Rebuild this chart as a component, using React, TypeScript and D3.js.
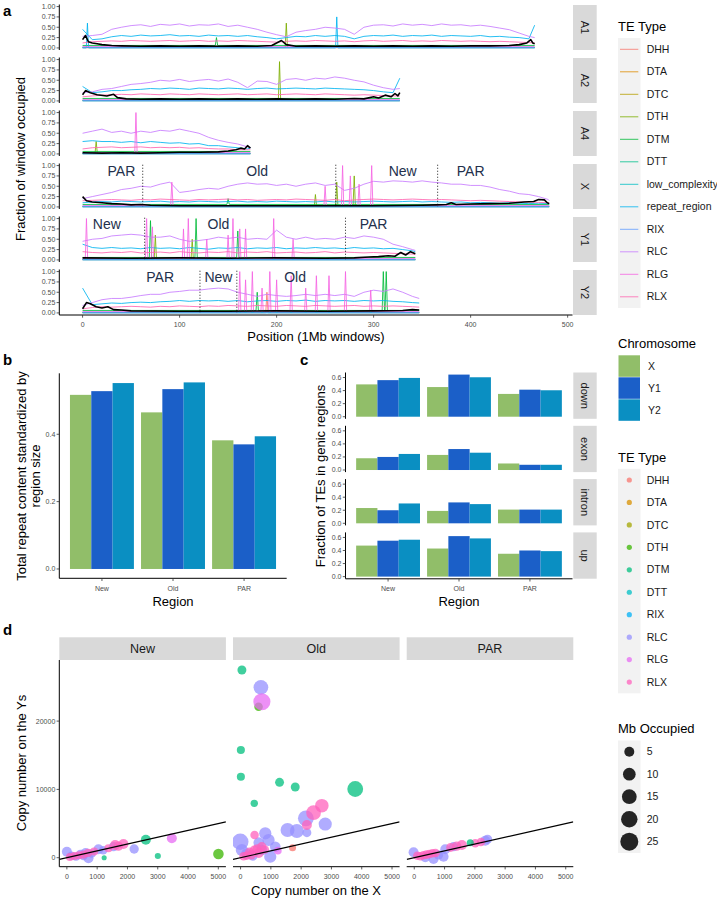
import React from 'react';
import * as d3 from 'd3';

type Pt = [number, number];

const FONT = '"Liberation Sans", Arial, Helvetica, sans-serif';
const TICK_GRAY = '#4D4D4D';
const STRIP_FILL = '#D9D9D9';
const KEY_FILL = '#F2F2F2';

// ---------- legend levels ----------
const lineTypes = ['DHH', 'DTA', 'DTC', 'DTH', 'DTM', 'DTT', 'low_complexity', 'repeat_region', 'RIX', 'RLC', 'RLG', 'RLX'];
const lineColors = ['#F8766D', '#DE8C00', '#B79F00', '#7CAE00', '#00BA38', '#00C08B', '#00BFC4', '#00B4F0', '#619CFF', '#C77CFF', '#F564E3', '#FF64B0'];
const pointTypes = ['DHH', 'DTA', 'DTC', 'DTH', 'DTM', 'DTT', 'RIX', 'RLC', 'RLG', 'RLX'];
const pointColors = ['#F8766D', '#D89000', '#A3A500', '#39B600', '#00BF7D', '#00BFC4', '#00B0F6', '#9590FF', '#E76BF3', '#FF62BC'];
const chromNames = ['X', 'Y1', 'Y2'];
const chromColors = ['#91BE69', '#1B5FC8', '#0A8FC2'];
const mbLevels = [5, 10, 15, 20, 25];

// ---------- panel a ----------
const chromosomes = ['A1', 'A2', 'A4', 'X', 'Y1', 'Y2'];
const chromEnds = [466, 327, 173, 481, 343, 347];
const posTicks = [0, 100, 200, 300, 400, 500];
const fracTicks = [0, 0.25, 0.5, 0.75, 1];

// values every 10 windows (last value at chromosome end)
const a1Rlc = [0.28, 0.3, 0.33, 0.45, 0.5, 0.54, 0.56, 0.52, 0.57, 0.55, 0.58, 0.53, 0.56, 0.55, 0.58, 0.52, 0.55, 0.5, 0.45, 0.38, 0.32, 0.27, 0.38, 0.42, 0.45, 0.5, 0.48, 0.45, 0.33, 0.5, 0.55, 0.56, 0.53, 0.58, 0.55, 0.57, 0.54, 0.58, 0.55, 0.56, 0.53, 0.55, 0.52, 0.48, 0.44, 0.36, 0.28, 0.25];
const a1Rep = [0.45, 0.2, 0.22, 0.27, 0.3, 0.28, 0.31, 0.29, 0.3, 0.32, 0.29, 0.3, 0.28, 0.31, 0.29, 0.3, 0.28, 0.3, 0.27, 0.25, 0.22, 0.25, 0.28, 0.27, 0.3, 0.28, 0.3, 0.28, 0.22, 0.28, 0.3, 0.29, 0.31, 0.28, 0.3, 0.29, 0.31, 0.28, 0.3, 0.29, 0.28, 0.3, 0.27, 0.28, 0.26, 0.25, 0.22, 0.55];
const a1Rlx = [0.12, 0.15, 0.16, 0.17, 0.16, 0.18, 0.17, 0.16, 0.17, 0.18, 0.16, 0.17, 0.18, 0.16, 0.17, 0.16, 0.18, 0.17, 0.16, 0.15, 0.14, 0.16, 0.17, 0.16, 0.18, 0.17, 0.16, 0.17, 0.15, 0.17, 0.18, 0.16, 0.17, 0.18, 0.16, 0.17, 0.16, 0.18, 0.17, 0.16, 0.17, 0.16, 0.15, 0.16, 0.15, 0.14, 0.13, 0.12];
const a2Rlc = [0.2, 0.22, 0.28, 0.3, 0.35, 0.4, 0.42, 0.45, 0.5, 0.48, 0.52, 0.47, 0.5, 0.52, 0.48, 0.53, 0.45, 0.32, 0.48, 0.47, 0.4, 0.52, 0.54, 0.5, 0.55, 0.53, 0.58, 0.55, 0.5, 0.46, 0.38, 0.32, 0.28, 0.3];
const a2Rep = [0.35, 0.2, 0.22, 0.25, 0.25, 0.27, 0.28, 0.3, 0.29, 0.31, 0.3, 0.28, 0.31, 0.3, 0.29, 0.31, 0.3, 0.28, 0.3, 0.31, 0.29, 0.3, 0.31, 0.3, 0.29, 0.31, 0.3, 0.29, 0.28, 0.27, 0.25, 0.22, 0.2, 0.55];
const a2Rlx = [0.1, 0.12, 0.14, 0.15, 0.16, 0.15, 0.17, 0.16, 0.15, 0.17, 0.16, 0.15, 0.17, 0.16, 0.15, 0.16, 0.17, 0.15, 0.16, 0.17, 0.15, 0.16, 0.17, 0.16, 0.15, 0.17, 0.16, 0.15, 0.14, 0.15, 0.14, 0.13, 0.12, 0.12];
const a4Rlc = [0.5, 0.55, 0.6, 0.52, 0.55, 0.5, 0.55, 0.52, 0.57, 0.55, 0.6, 0.55, 0.5, 0.4, 0.33, 0.28, 0.24, 0.17, 0.15];
const a4Rep = [0.3, 0.32, 0.3, 0.3, 0.28, 0.3, 0.27, 0.3, 0.28, 0.26, 0.27, 0.24, 0.25, 0.2, 0.2, 0.17, 0.15, 0.12, 0.15];
const a4Rlx = [0.12, 0.15, 0.16, 0.17, 0.15, 0.16, 0.17, 0.15, 0.16, 0.15, 0.16, 0.14, 0.15, 0.13, 0.12, 0.12, 0.1, 0.1, 0.1];
const xRlc = [0.2, 0.25, 0.3, 0.35, 0.42, 0.45, 0.5, 0.48, 0.55, 0.6, 0.35, 0.38, 0.42, 0.45, 0.43, 0.5, 0.55, 0.58, 0.55, 0.56, 0.52, 0.55, 0.5, 0.55, 0.58, 0.52, 0.55, 0.4, 0.45, 0.55, 0.62, 0.6, 0.63, 0.62, 0.6, 0.63, 0.6, 0.58, 0.55, 0.55, 0.52, 0.52, 0.48, 0.42, 0.38, 0.32, 0.3, 0.25, 0.18, 0.15];
const xRep = [0.1, 0.12, 0.13, 0.12, 0.14, 0.13, 0.12, 0.13, 0.14, 0.12, 0.13, 0.12, 0.14, 0.13, 0.12, 0.13, 0.14, 0.12, 0.13, 0.12, 0.14, 0.13, 0.12, 0.13, 0.12, 0.14, 0.12, 0.13, 0.12, 0.13, 0.14, 0.13, 0.12, 0.13, 0.14, 0.12, 0.13, 0.12, 0.11, 0.12, 0.1, 0.11, 0.1, 0.09, 0.1, 0.09, 0.08, 0.09, 0.08, 0.07];
const xRlx = [0.15, 0.16, 0.17, 0.18, 0.17, 0.16, 0.18, 0.17, 0.19, 0.18, 0.17, 0.16, 0.18, 0.17, 0.18, 0.19, 0.17, 0.18, 0.16, 0.17, 0.18, 0.17, 0.19, 0.18, 0.17, 0.16, 0.18, 0.15, 0.17, 0.18, 0.19, 0.18, 0.17, 0.18, 0.19, 0.18, 0.17, 0.18, 0.17, 0.16, 0.15, 0.16, 0.15, 0.14, 0.13, 0.12, 0.12, 0.11, 0.1, 0.1];
const y1Rlc = [0.45, 0.5, 0.52, 0.58, 0.6, 0.62, 0.6, 0.55, 0.55, 0.58, 0.5, 0.45, 0.47, 0.5, 0.55, 0.52, 0.55, 0.5, 0.52, 0.5, 0.72, 0.55, 0.5, 0.55, 0.5, 0.52, 0.5, 0.55, 0.52, 0.58, 0.55, 0.5, 0.38, 0.32, 0.25, 0.23];
const y1Rep = [0.38, 0.3, 0.28, 0.3, 0.28, 0.29, 0.27, 0.3, 0.28, 0.29, 0.27, 0.3, 0.28, 0.26, 0.29, 0.28, 0.3, 0.27, 0.29, 0.28, 0.3, 0.27, 0.29, 0.28, 0.3, 0.28, 0.29, 0.27, 0.3, 0.28, 0.29, 0.27, 0.28, 0.25, 0.22, 0.2];
const y1Rlx = [0.2, 0.18, 0.17, 0.19, 0.18, 0.2, 0.17, 0.18, 0.19, 0.17, 0.2, 0.18, 0.17, 0.19, 0.18, 0.2, 0.17, 0.19, 0.18, 0.2, 0.17, 0.18, 0.19, 0.17, 0.18, 0.2, 0.17, 0.19, 0.18, 0.17, 0.18, 0.17, 0.16, 0.15, 0.14, 0.13];
const y2Rlc = [0.18, 0.25, 0.32, 0.35, 0.35, 0.38, 0.42, 0.45, 0.45, 0.5, 0.52, 0.55, 0.55, 0.58, 0.6, 0.58, 0.5, 0.45, 0.4, 0.45, 0.42, 0.4, 0.42, 0.45, 0.42, 0.45, 0.42, 0.45, 0.4, 0.5, 0.55, 0.52, 0.58, 0.5, 0.4, 0.35];
const y2Rep = [0.6, 0.2, 0.22, 0.24, 0.23, 0.25, 0.26, 0.25, 0.27, 0.28, 0.3, 0.28, 0.3, 0.29, 0.3, 0.28, 0.3, 0.27, 0.29, 0.3, 0.28, 0.3, 0.29, 0.31, 0.28, 0.3, 0.29, 0.3, 0.28, 0.3, 0.29, 0.3, 0.28, 0.27, 0.25, 0.24];
const y2Rlx = [0.1, 0.13, 0.15, 0.14, 0.15, 0.16, 0.15, 0.14, 0.16, 0.15, 0.17, 0.16, 0.15, 0.17, 0.16, 0.18, 0.17, 0.16, 0.18, 0.17, 0.16, 0.18, 0.17, 0.16, 0.18, 0.17, 0.16, 0.17, 0.18, 0.16, 0.17, 0.16, 0.17, 0.16, 0.15, 0.14];

// thick black line, [position, fraction]
const a1Black: Pt[] = [[0, 0.2], [3, 0.3], [6, 0.15], [10, 0.12], [15, 0.1], [20, 0.08], [30, 0.06], [40, 0.05], [60, 0.04], [80, 0.05], [100, 0.04], [120, 0.05], [140, 0.04], [160, 0.05], [180, 0.04], [195, 0.06], [200, 0.12], [205, 0.18], [210, 0.08], [220, 0.04], [240, 0.05], [260, 0.04], [280, 0.05], [300, 0.04], [320, 0.05], [340, 0.04], [360, 0.05], [380, 0.04], [400, 0.05], [420, 0.05], [440, 0.06], [450, 0.08], [458, 0.12], [462, 0.2], [464, 0.12], [466, 0.1]];
const a2Black: Pt[] = [[0, 0.15], [3, 0.25], [8, 0.2], [15, 0.15], [25, 0.12], [32, 0.16], [36, 0.08], [45, 0.05], [60, 0.04], [80, 0.05], [100, 0.04], [120, 0.05], [140, 0.04], [160, 0.05], [180, 0.04], [200, 0.05], [220, 0.04], [240, 0.05], [260, 0.04], [280, 0.06], [290, 0.05], [300, 0.1], [305, 0.07], [312, 0.14], [318, 0.1], [322, 0.18], [325, 0.12], [327, 0.2]];
const a4Black: Pt[] = [[0, 0.03], [20, 0.02], [40, 0.03], [60, 0.02], [80, 0.03], [100, 0.04], [120, 0.04], [140, 0.05], [150, 0.07], [158, 0.1], [163, 0.14], [167, 0.12], [170, 0.2], [173, 0.14]];
const xBlack: Pt[] = [[0, 0.25], [4, 0.15], [10, 0.12], [20, 0.1], [30, 0.08], [40, 0.07], [50, 0.05], [60, 0.06], [70, 0.04], [100, 0.03], [150, 0.03], [200, 0.03], [250, 0.03], [300, 0.03], [350, 0.04], [365, 0.05], [375, 0.06], [380, 0.1], [385, 0.06], [400, 0.07], [420, 0.08], [440, 0.09], [455, 0.12], [465, 0.13], [470, 0.18], [476, 0.17], [479, 0.1], [481, 0.08]];
const y1Black: Pt[] = [[0, 0.05], [50, 0.04], [100, 0.05], [150, 0.04], [200, 0.05], [250, 0.04], [280, 0.05], [295, 0.07], [305, 0.08], [315, 0.1], [322, 0.09], [328, 0.18], [333, 0.12], [338, 0.2], [343, 0.15]];
const y2Black: Pt[] = [[0, 0.1], [4, 0.25], [8, 0.22], [14, 0.15], [20, 0.12], [26, 0.15], [32, 0.08], [40, 0.07], [50, 0.05], [100, 0.04], [150, 0.04], [200, 0.05], [250, 0.04], [300, 0.05], [330, 0.06], [340, 0.08], [347, 0.07]];

// narrow peaks, [position, fraction]
const rlgPeaks: Pt[][] = [
  [], [], [[55, 1.0]],
  [[92, 0.6], [250, 0.5], [268, 1.0], [276, 0.75], [285, 0.55], [298, 1.0]],
  [[4, 1.0], [66, 1.0], [72, 0.8], [104, 0.75], [109, 1.0], [128, 0.5], [150, 0.6], [155, 1.0], [162, 0.75], [168, 0.75], [197, 1.0], [217, 0.5]],
  [[162, 1.0], [168, 0.8], [175, 1.0], [185, 0.6], [193, 1.0], [200, 0.8], [215, 0.9], [230, 0.6], [241, 0.9], [254, 0.9], [271, 1.0], [297, 0.55]],
];
const dthPeaks: Pt[][] = [[[210, 0.6]], [[203, 0.95]], [[14, 0.3]], [[240, 0.3], [262, 0.6], [280, 0.75]], [[75, 0.6], [113, 0.5]], []];
const dtmPeaks: Pt[][] = [[[138, 0.25]], [], [], [[150, 0.2]], [[70, 0.95], [117, 1.0], [160, 0.7]], [[180, 0.5], [310, 1.0], [313, 1.0]]];
const dhhPeaks: Pt[][] = [[], [], [], [], [], [[190, 0.5]]];
const repPeaks: Pt[][] = [[[5, 0.6], [262, 0.75]], [], [], [], [], []];

const regionLabels = [[], [], [], ['PAR', 'Old', 'New', 'PAR'], ['New', 'Old', 'PAR'], ['PAR', 'New', 'Old']];
const regionLabelPos = [[], [], [], [40, 180, 330, 400], [25, 140, 300], [80, 140, 219]];
const regionBounds = [[], [], [], [62, 261, 366], [64, 271], [121, 159]];

// ---------- panel b ----------
const regions = ['New', 'Old', 'PAR'];
const bTotalX = [0.517, 0.465, 0.382];
const bTotalY1 = [0.528, 0.534, 0.37];
const bTotalY2 = [0.552, 0.554, 0.394];
const bTicks = [0, 0.2, 0.4];

// ---------- panel c ----------
const genicParts = ['down', 'exon', 'intron', 'up'];
const cDownX = [0.495, 0.454, 0.349];
const cDownY1 = [0.56, 0.645, 0.414];
const cDownY2 = [0.594, 0.604, 0.405];
const cExonX = [0.18, 0.231, 0.1];
const cExonY1 = [0.2, 0.321, 0.08];
const cExonY2 = [0.246, 0.265, 0.08];
const cIntronX = [0.234, 0.19, 0.21];
const cIntronY1 = [0.2, 0.32, 0.21];
const cIntronY2 = [0.304, 0.294, 0.21];
const cUpX = [0.475, 0.43, 0.35];
const cUpY1 = [0.55, 0.62, 0.4];
const cUpY2 = [0.565, 0.585, 0.39];
const cTicks = [0, 0.2, 0.4, 0.6];

// ---------- panel d ----------  [type, copies on X, copies on Ys, Mb occupied]
type DPoint = [string, number, number, number];
const dNew: DPoint[] = [
  ['RLC', 0, 880, 5], ['RLC', 150, 300, 3], ['RLC', 300, 150, 2.5], ['RLC', 450, 500, 4], ['RLC', 550, 250, 3], ['RLC', 713, -90, 5], ['RLC', 620, 750, 4], ['RLC', 820, 600, 3], ['RLC', 1043, 1230, 5], ['RLC', 1200, 1100, 3], ['RLC', 1538, 1610, 4], ['RLC', 2221, 1274, 4],
  ['RLX', 100, 100, 2.5], ['RLX', 250, 250, 2.5], ['RLX', 400, 350, 2.5], ['RLX', 550, 450, 2.5], ['RLX', 700, 700, 2.5], ['RLX', 900, 900, 2.5], ['RLX', 1373, 1376, 2.5], ['RLX', 1594, 1860, 5], ['RLX', 1700, 1700, 4], ['RLX', 1868, 2005, 5],
  ['DTM', 1231, 0, 0.3], ['DTM', 2607, 2635, 5], ['DTM', 3003, 250, 0.8],
  ['RLG', 3465, 2840, 5],
  ['DTH', 5003, 540, 6],
];
const dOld: DPoint[] = [
  ['DTM', 44, 27480, 3.5], ['DTM', 10, 15770, 2.5], ['DTM', 10, 11860, 2.5], ['DTM', 1287, 11040, 3.5], ['DTM', 1805, 10350, 3.5], ['DTM', 3785, 10060, 18], ['DTM', 452, 7960, 1.8],
  ['RLC', 671, 24940, 15], ['RLC', 2156, 5770, 18], ['RLC', 2795, 4930, 11], ['RLC', 1551, 4060, 13], ['RLC', 1858, 3910, 13], ['RLC', 2189, 3660, 3.5], ['RLC', -10, 2340, 20], ['RLC', 815, 3570, 9], ['RLC', 924, 2590, 9], ['RLC', 43, 1130, 9], ['RLC', 980, 146, 9], ['RLC', 704, 1130, 6], ['RLC', 1145, 1610, 6], ['RLC', 200, 600, 6], ['RLC', 400, 300, 5], ['RLC', 600, 2200, 6],
  ['DTH', 594, 22100, 3],
  ['RLG', 704, 22840, 22], ['RLG', 1231, 1030, 2],
  ['RLX', 2683, 7620, 12], ['RLX', 2409, 6590, 15], ['RLX', 2189, 4790, 5], ['RLX', 462, 3320, 3], ['RLX', 300, 800, 4], ['RLX', 450, 1100, 4], ['RLX', 550, 1300, 4], ['RLX', 350, 400, 4], ['RLX', 700, 1600, 4], ['RLX', 200, 300, 3], ['RLX', 600, 700, 5], ['RLX', 800, 1200, 3], ['RLX', 100, 200, 3],
  ['DHH', 1716, 1460, 1.5],
];
const dPar: DPoint[] = [
  ['RLC', -23, 790, 5], ['RLC', 363, 60, 5], ['RLC', 637, -190, 5], ['RLC', 967, 146, 5], ['RLC', 1023, 1230, 5], ['RLC', 1297, 1610, 4], ['RLC', 2343, 2490, 5], ['RLC', 2419, 2690, 4], ['RLC', 800, 400, 4],
  ['RLX', 100, 300, 3], ['RLX', 200, 200, 3], ['RLX', 300, 350, 3], ['RLX', 400, 450, 3], ['RLX', 500, 550, 3], ['RLX', 600, 650, 3], ['RLX', 700, 700, 3], ['RLX', 1200, 1500, 3.5], ['RLX', 1400, 1700, 4], ['RLX', 1574, 1860, 5], ['RLX', 2013, 2108, 3], ['RLX', 2200, 2300, 3],
  ['DTM', 1848, 2196, 1.5],
];
const copyTicksX = [0, 1000, 2000, 3000, 4000, 5000];
const copyTicksY = [0, 10000, 20000];

// ---------- helpers ----------
function gridLine(vals: number[], end: number): Pt[] {
  return vals.map((v, i) => [Math.min(i * 10, end), v] as Pt);
}
function spikeLine(base: number, end: number, peaks: Pt[]): Pt[] {
  const pts: Pt[] = [[0, base]];
  [...peaks].sort((a, b) => a[0] - b[0]).forEach(([p, h]) => {
    pts.push([Math.max(0, p - 1.2), base], [p, h], [Math.min(end, p + 1.2), base]);
  });
  pts.push([end, base]);
  return pts;
}
const lineColor = (t: string) => lineColors[lineTypes.indexOf(t)];
const pointColor = (t: string) => pointColors[pointTypes.indexOf(t)];

const rlcSeries = [a1Rlc, a2Rlc, a4Rlc, xRlc, y1Rlc, y2Rlc];
const repSeries = [a1Rep, a2Rep, a4Rep, xRep, y1Rep, y2Rep];
const rlxSeries = [a1Rlx, a2Rlx, a4Rlx, xRlx, y1Rlx, y2Rlx];
const blackSeries = [a1Black, a2Black, a4Black, xBlack, y1Black, y2Black];

const aX = d3.scaleLinear().domain([-24, 505]).range([59.3, 572.5]);
const A_LEFT = 59.3;
const A_RIGHT = 572.5;

function PanelA() {
  return (
    <g>
      {chromosomes.map((name, i) => {
        const top = 4.5 + i * 53;
        const h = 45.5;
        const end = chromEnds[i];
        const y = d3.scaleLinear().domain([-0.05, 1.05]).range([top + h, top]);
        const line = d3.line<Pt>().x((d) => aX(d[0])).y((d) => y(d[1]));
        const traces: { type: string; pts: Pt[] }[] = [
          { type: 'DHH', pts: spikeLine(0.005, end, dhhPeaks[i]) },
          { type: 'DTH', pts: spikeLine(0.01, end, dthPeaks[i]) },
          { type: 'DTM', pts: spikeLine(0.06, end, dtmPeaks[i]) },
          { type: 'low_complexity', pts: spikeLine(0.01, end, []) },
          { type: 'repeat_region', pts: gridLine(repSeries[i], end) },
          { type: 'repeat_region', pts: spikeLine(0.0, end, repPeaks[i]) },
          { type: 'RIX', pts: spikeLine(0.02, end, []) },
          { type: 'RLC', pts: gridLine(rlcSeries[i], end) },
          { type: 'RLG', pts: spikeLine(0.03, end, rlgPeaks[i]) },
          { type: 'RLX', pts: gridLine(rlxSeries[i], end) },
        ];
        return (
          <g key={name}>
            {traces.map((t, k) => (
              <path key={k} d={line(t.pts) || ''} fill="none" stroke={lineColor(t.type)} strokeWidth={0.85} strokeLinejoin="round" />
            ))}
            <path d={line(blackSeries[i]) || ''} fill="none" stroke="#000" strokeWidth={1.6} strokeLinejoin="round" />
            {regionBounds[i].map((b, k) => (
              <line key={'b' + k} x1={aX(b)} x2={aX(b)} y1={y(1.02)} y2={y(0)} stroke="#000" strokeWidth={0.9} strokeDasharray="1,2" />
            ))}
            {regionLabels[i].map((lab, k) => (
              <text key={'l' + k} x={aX(regionLabelPos[i][k])} y={y(0.87)} dy="0.35em" textAnchor="middle" fontSize={14} fill="#23304C">{lab}</text>
            ))}
            {/* y axis */}
            <line x1={A_LEFT} x2={A_LEFT} y1={top} y2={top + h} stroke="#000" strokeWidth={1} />
            {fracTicks.map((t) => (
              <g key={t}>
                <line x1={A_LEFT - 2.7} x2={A_LEFT} y1={y(t)} y2={y(t)} stroke="#333" strokeWidth={0.8} />
                <text x={A_LEFT - 4} y={y(t)} dy="0.35em" textAnchor="end" fontSize={7} fill={TICK_GRAY}>{t.toFixed(2)}</text>
              </g>
            ))}
            {/* strip */}
            <rect x={573} y={top + 0.5} width={23.7} height={45} fill={STRIP_FILL} />
            <text transform={`translate(${584.8},${top + 23}) rotate(90)`} textAnchor="middle" dy="0.35em" fontSize={11} fill="#1A1A1A">{name}</text>
          </g>
        );
      })}
      {/* x axis */}
      <line x1={A_LEFT} x2={A_RIGHT} y1={315} y2={315} stroke="#000" strokeWidth={1} />
      {posTicks.map((t) => (
        <g key={t}>
          <line x1={aX(t)} x2={aX(t)} y1={315} y2={317.7} stroke="#333" strokeWidth={0.8} />
          <text x={aX(t)} y={326.5} textAnchor="middle" fontSize={7} fill={TICK_GRAY}>{t}</text>
        </g>
      ))}
      <text x={316} y={341} textAnchor="middle" fontSize={13}>Position (1Mb windows)</text>
      <text transform="translate(25,159) rotate(-90)" textAnchor="middle" fontSize={13}>Fraction of window occupied</text>
    </g>
  );
}

function PanelB() {
  const xb = d3.scaleBand().domain(regions).range([59.3, 286.7]).paddingInner(0.1).paddingOuter(0.15);
  const inner = d3.scaleBand().domain(chromNames).range([0, xb.bandwidth()]);
  const y = d3.scaleLinear().domain([-0.0277, 0.581]).range([578.3, 373.3]);
  const series = [bTotalX, bTotalY1, bTotalY2];
  return (
    <g>
      {regions.map((r, ri) =>
        chromNames.map((c, ci) => (
          <rect key={r + c} x={(xb(r) || 0) + (inner(c) || 0)} y={y(series[ci][ri])} width={inner.bandwidth()} height={y(0) - y(series[ci][ri])} fill={chromColors[ci]} />
        ))
      )}
      <line x1={59.3} x2={59.3} y1={373.3} y2={578.3} stroke="#000" strokeWidth={1} />
      <line x1={59.3} x2={286.7} y1={578.3} y2={578.3} stroke="#000" strokeWidth={1} />
      {bTicks.map((t) => (
        <g key={t}>
          <line x1={56.6} x2={59.3} y1={y(t)} y2={y(t)} stroke="#333" strokeWidth={0.8} />
          <text x={55.3} y={y(t)} dy="0.35em" textAnchor="end" fontSize={7} fill={TICK_GRAY}>{t.toFixed(1)}</text>
        </g>
      ))}
      {regions.map((r) => (
        <g key={r}>
          <line x1={(xb(r) || 0) + xb.bandwidth() / 2} x2={(xb(r) || 0) + xb.bandwidth() / 2} y1={578.3} y2={581} stroke="#333" strokeWidth={0.8} />
          <text x={(xb(r) || 0) + xb.bandwidth() / 2} y={590.5} textAnchor="middle" fontSize={7} fill={TICK_GRAY}>{r}</text>
        </g>
      ))}
      <text x={173} y={606} textAnchor="middle" fontSize={13}>Region</text>
      <text transform="translate(26,476) rotate(-90)" textAnchor="middle" fontSize={13}>Total repeat content standardized by</text>
      <text transform="translate(39.5,476) rotate(-90)" textAnchor="middle" fontSize={13}>region size</text>
    </g>
  );
}

function PanelC() {
  const xb = d3.scaleBand().domain(regions).range([345.5, 572.5]).paddingInner(0.1).paddingOuter(0.15);
  const inner = d3.scaleBand().domain(chromNames).range([0, xb.bandwidth()]);
  const facets = [
    [cDownX, cDownY1, cDownY2],
    [cExonX, cExonY1, cExonY2],
    [cIntronX, cIntronY1, cIntronY2],
    [cUpX, cUpY1, cUpY2],
  ];
  const L = 345.5;
  return (
    <g>
      {genicParts.map((part, fi) => {
        const top = 372.5 + fi * 53.3;
        const h = 46.3;
        const y = d3.scaleLinear().domain([-0.032, 0.677]).range([top + h, top]);
        return (
          <g key={part}>
            {regions.map((r, ri) =>
              chromNames.map((c, ci) => (
                <rect key={r + c} x={(xb(r) || 0) + (inner(c) || 0)} y={y(facets[fi][ci][ri])} width={inner.bandwidth()} height={y(0) - y(facets[fi][ci][ri])} fill={chromColors[ci]} />
              ))
            )}
            <line x1={L} x2={L} y1={top} y2={top + h} stroke="#000" strokeWidth={1} />
            {cTicks.map((t) => (
              <g key={t}>
                <line x1={L - 2.7} x2={L} y1={y(t)} y2={y(t)} stroke="#333" strokeWidth={0.8} />
                <text x={L - 4} y={y(t)} dy="0.35em" textAnchor="end" fontSize={7} fill={TICK_GRAY}>{t.toFixed(1)}</text>
              </g>
            ))}
            <rect x={573.3} y={top} width={23.4} height={h} fill={STRIP_FILL} />
            <text transform={`translate(${585},${top + h / 2}) rotate(90)`} textAnchor="middle" dy="0.35em" fontSize={11} fill="#1A1A1A">{part}</text>
          </g>
        );
      })}
      <line x1={L} x2={572.5} y1={578.8} y2={578.8} stroke="#000" strokeWidth={1} />
      {regions.map((r) => (
        <g key={r}>
          <line x1={(xb(r) || 0) + xb.bandwidth() / 2} x2={(xb(r) || 0) + xb.bandwidth() / 2} y1={578.8} y2={581.5} stroke="#333" strokeWidth={0.8} />
          <text x={(xb(r) || 0) + xb.bandwidth() / 2} y={590.5} textAnchor="middle" fontSize={7} fill={TICK_GRAY}>{r}</text>
        </g>
      ))}
      <text x={459} y={606} textAnchor="middle" fontSize={13}>Region</text>
      <text transform="translate(324.5,476) rotate(-90)" textAnchor="middle" fontSize={13}>Fraction of TEs in genic regions</text>
    </g>
  );
}

const sizeScale = d3.scaleSqrt().domain([0, 25]).range([1.76, 9]);

function PanelD() {
  const lefts = [59.3, 233, 406.7];
  const w = 166.6;
  const facetData = [dNew, dOld, dPar];
  const y = d3.scaleLinear().domain([-1318, 28946]).range([866.7, 660]);
  return (
    <g>
      {regions.map((r, fi) => {
        const x = d3.scaleLinear().domain([-250, 5250]).range([lefts[fi], lefts[fi] + w]);
        return (
          <g key={r}>
            <clipPath id={'clipd' + fi}>
              <rect x={lefts[fi]} y={660} width={w} height={206.7} />
            </clipPath>
            <g clipPath={`url(#clipd${fi})`}>
              {facetData[fi].map((p, k) => (
                <circle key={k} cx={x(p[1])} cy={y(p[2])} r={sizeScale(p[3])} fill={pointColor(p[0])} fillOpacity={0.75} />
              ))}
              <line x1={x(-250)} y1={y(-250)} x2={x(5250)} y2={y(5250)} stroke="#000" strokeWidth={1.1} />
            </g>
            <rect x={lefts[fi]} y={637.3} width={w} height={22.7} fill={STRIP_FILL} />
            <text x={lefts[fi] + w / 2} y={648.7} dy="0.35em" textAnchor="middle" fontSize={12.5} fill="#1A1A1A">{r}</text>
            <line x1={lefts[fi]} x2={lefts[fi] + w} y1={866.7} y2={866.7} stroke="#000" strokeWidth={1} />
            {copyTicksX.map((t) => (
              <g key={t}>
                <line x1={x(t)} x2={x(t)} y1={866.7} y2={869.4} stroke="#333" strokeWidth={0.8} />
                <text x={x(t)} y={878.5} textAnchor="middle" fontSize={7} fill={TICK_GRAY}>{t}</text>
              </g>
            ))}
          </g>
        );
      })}
      <line x1={59.3} x2={59.3} y1={660} y2={866.7} stroke="#000" strokeWidth={1} />
      {copyTicksY.map((t) => (
        <g key={t}>
          <line x1={56.6} x2={59.3} y1={y(t)} y2={y(t)} stroke="#333" strokeWidth={0.8} />
          <text x={55.3} y={y(t)} dy="0.35em" textAnchor="end" fontSize={7} fill={TICK_GRAY}>{t}</text>
        </g>
      ))}
      <text x={316} y={894.5} textAnchor="middle" fontSize={13}>Copy number on the X</text>
      <text transform="translate(26,763) rotate(-90)" textAnchor="middle" fontSize={13}>Copy number on the Ys</text>
    </g>
  );
}

function Legends() {
  const lx = 618;
  return (
    <g>
      {/* TE Type (lines) */}
      <text x={lx} y={31} fontSize={13}>TE Type</text>
      <rect x={lx} y={38} width={22.5} height={lineTypes.length * 22.5} fill={KEY_FILL} />
      {lineTypes.map((t, i) => (
        <g key={t}>
          <line x1={620} x2={638.3} y1={49.3 + i * 22.5} y2={49.3 + i * 22.5} stroke={lineColors[i]} strokeWidth={0.8} />
          <text x={646.7} y={49.3 + i * 22.5} dy="0.35em" fontSize={10.5} fill="#1A1A1A">{t}</text>
        </g>
      ))}
      {/* Chromosome */}
      <text x={lx} y={347.5} fontSize={13}>Chromosome</text>
      {chromNames.map((c, i) => (
        <g key={c}>
          <rect x={lx + 0.5} y={355.3 + i * 22} width={21.5} height={21.5} fill={chromColors[i]} />
          <text x={648} y={366 + i * 22} dy="0.35em" fontSize={10.5} fill="#1A1A1A">{c}</text>
        </g>
      ))}
      {/* TE Type (points) */}
      <text x={lx} y={461.5} fontSize={13}>TE Type</text>
      <rect x={lx} y={468.8} width={22.5} height={pointTypes.length * 22.45} fill={KEY_FILL} />
      {pointTypes.map((t, i) => (
        <g key={t}>
          <circle cx={629.3} cy={480 + i * 22.45} r={2.6} fill={pointColors[i]} fillOpacity={0.75} />
          <text x={646.7} y={480 + i * 22.45} dy="0.35em" fontSize={10.5} fill="#1A1A1A">{t}</text>
        </g>
      ))}
      {/* Mb Occupied */}
      <text x={lx} y={732.5} fontSize={13}>Mb Occupied</text>
      <rect x={lx} y={740.5} width={22.5} height={mbLevels.length * 22.5} fill={KEY_FILL} />
      {mbLevels.map((m, i) => (
        <g key={m}>
          <circle cx={629.3} cy={751.7 + i * 22.5} r={sizeScale(m)} fill="#000" fillOpacity={0.85} />
          <text x={646.7} y={751.7 + i * 22.5} dy="0.35em" fontSize={10.5} fill="#1A1A1A">{m}</text>
        </g>
      ))}
    </g>
  );
}

export default function App() {
  return (
    <svg width={717} height={898} style={{ position: 'absolute', left: 0, top: 0, background: '#fff' }} fontFamily={FONT}>
      <rect width={717} height={898} fill="#fff" />
      <text x={3} y={16} fontSize={15} fontWeight="bold">a</text>
      <text x={3} y={365} fontSize={15} fontWeight="bold">b</text>
      <text x={300} y={365} fontSize={15} fontWeight="bold">c</text>
      <text x={3} y={635} fontSize={15} fontWeight="bold">d</text>
      <PanelA />
      <PanelB />
      <PanelC />
      <PanelD />
      <Legends />
    </svg>
  );
}
